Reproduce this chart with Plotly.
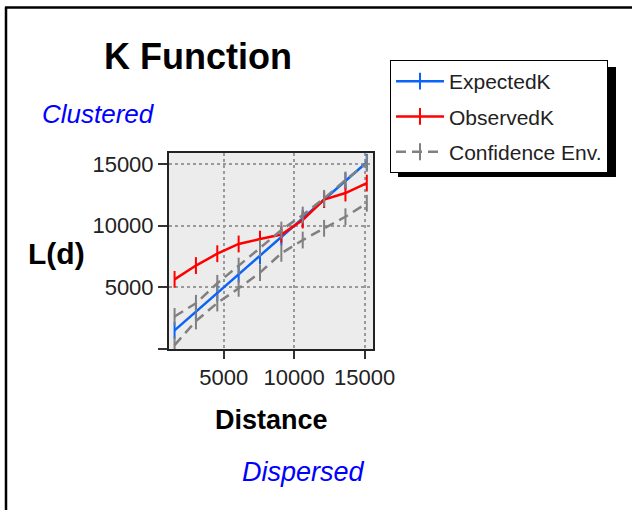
import plotly.graph_objects as go

distance = [1515, 3030, 4545, 6060, 7575, 9090, 10605, 12120, 13635, 15150]
expected_k = [1515, 3030, 4545, 6060, 7575, 9090, 10605, 12120, 13635, 15150]
observed_k = [5650, 6770, 7730, 8520, 8920, 9290, 10460, 12120, 12650, 13460]
conf_upper = [2640, 3710, 5330, 6730, 8190, 9650, 10870, 12220, 13710, 15060]
conf_lower = [320, 2270, 3730, 4920, 6200, 7760, 8840, 9790, 10730, 11820]

x_ticks = [5000, 10000, 15000]
x_tick_text = ["5000", "10000", "15000"]
y_ticks = [0, 5000, 10000, 15000]
y_tick_text = ["", "5000", "10000", "15000"]

FONT = "Liberation Sans, Arial, sans-serif"

W, H = 632, 510
L, R, T, B = 169, 373, 153, 349

def px(x):
    return (x - L) / (R - L)

def py(y):
    return (B - y) / (B - T)

fig = go.Figure()

fig.add_trace(go.Scatter(
    x=distance, y=expected_k, name="ExpectedK", mode="lines+markers",
    line=dict(color="#0a64f5", width=2.5),
    marker=dict(symbol="line-ns", size=12, line=dict(color="#0a64f5", width=2)),
    legendgroup="a"))
fig.add_trace(go.Scatter(
    x=distance, y=observed_k, name="ObservedK", mode="lines+markers",
    line=dict(color="#ff0000", width=2.5),
    marker=dict(symbol="line-ns", size=12, line=dict(color="#ff0000", width=2)),
    legendgroup="b"))
fig.add_trace(go.Scatter(
    x=distance, y=conf_upper, name="Confidence Env.", mode="lines+markers",
    line=dict(color="#808080", width=2.5, dash="10px,6px"),
    marker=dict(symbol="line-ns", size=12, line=dict(color="#808080", width=2)),
    legendgroup="c"))
fig.add_trace(go.Scatter(
    x=distance, y=conf_lower, name="Confidence Env.", mode="lines+markers",
    line=dict(color="#808080", width=2.5, dash="10px,6px"),
    marker=dict(symbol="line-ns", size=12, line=dict(color="#808080", width=2)),
    legendgroup="c", showlegend=False))

shapes = [
    # figure frame (left and top)
    dict(type="line", xref="paper", yref="paper", x0=px(6), x1=px(6), y0=py(7), y1=py(530),
         line=dict(color="black", width=2.5)),
    dict(type="line", xref="paper", yref="paper", x0=px(5), x1=px(650), y0=py(7.5), y1=py(7.5),
         line=dict(color="black", width=2.5)),
    # legend shadow
    dict(type="rect", xref="paper", yref="paper", x0=px(398), x1=px(616), y0=py(177), y1=py(67),
         fillcolor="black", line=dict(width=0)),
]

annotations = [
    dict(text="<b>K Function</b>", x=px(197.5), y=py(57), xref="paper", yref="paper",
         showarrow=False, xanchor="center", yanchor="middle",
         font=dict(family=FONT, size=36, color="black")),
    dict(text="<i>Clustered</i>", x=px(98), y=py(114), xref="paper", yref="paper",
         showarrow=False, xanchor="center", yanchor="middle",
         font=dict(family=FONT, size=26, color="#0000ff")),
    dict(text="<i>Dispersed</i>", x=px(303), y=py(472), xref="paper", yref="paper",
         showarrow=False, xanchor="center", yanchor="middle",
         font=dict(family=FONT, size=27, color="#0000ff")),
    dict(text="<b>L(d)</b>", x=px(56), y=py(253), xref="paper", yref="paper",
         showarrow=False, xanchor="center", yanchor="middle",
         font=dict(family=FONT, size=30, color="black")),
    dict(text="<b>Distance</b>", x=px(271.5), y=py(420), xref="paper", yref="paper",
         showarrow=False, xanchor="center", yanchor="middle",
         font=dict(family=FONT, size=27, color="black")),
]

fig.update_layout(
    width=W, height=H,
    margin=dict(l=L, r=W - R, t=T, b=H - B, pad=0, autoexpand=False),
    paper_bgcolor="white",
    plot_bgcolor="#ececec",
    showlegend=True,
    legend=dict(x=px(390), y=py(60), xanchor="left", yanchor="top",
                bgcolor="white", bordercolor="black", borderwidth=1,
                font=dict(family=FONT, size=21, color="#222"),
                tracegroupgap=5, itemwidth=48),
    shapes=shapes,
    annotations=annotations,
)

fig.update_xaxes(range=[1120, 15590], tickvals=x_ticks, ticktext=x_tick_text,
                 ticks="outside", ticklen=8,
                 tickcolor="#333", tickwidth=1.5,
                 showgrid=True, gridcolor="#999", griddash="dot", gridwidth=1.5,
                 showline=True, linecolor="#222", linewidth=2, mirror=True,
                 zeroline=False,
                 tickfont=dict(family=FONT, size=22, color="#222"))
fig.update_yaxes(range=[0, 15900], tickvals=y_ticks, ticktext=y_tick_text,
                 ticks="outside", ticklen=9, tickcolor="#333", tickwidth=1.5,
                 showgrid=True, gridcolor="#999", griddash="dot", gridwidth=1.5,
                 showline=True, linecolor="#222", linewidth=2, mirror=True,
                 zeroline=False,
                 tickfont=dict(family=FONT, size=22, color="#222"))

fig.write_html("out.html", config={"displayModeBar": False},
               post_script="document.body.style.margin='0';")
